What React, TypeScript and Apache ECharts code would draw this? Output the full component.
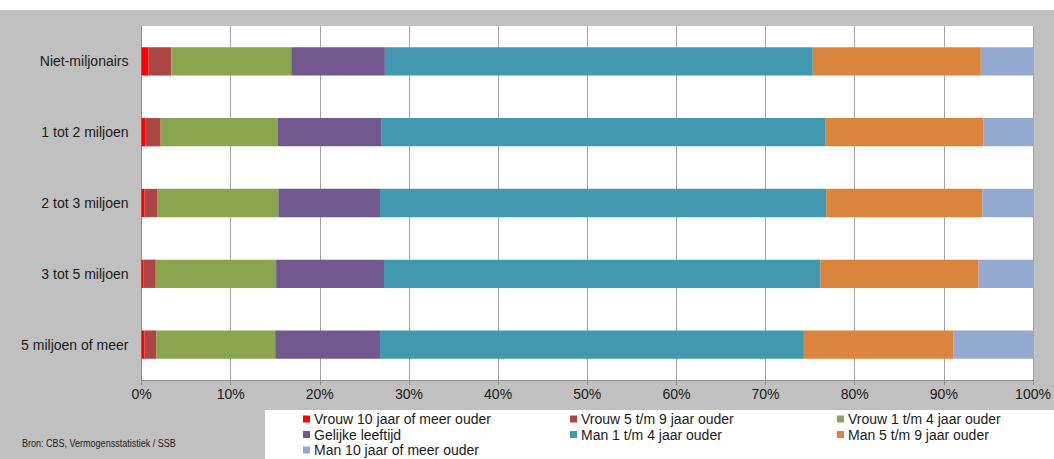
import React, { useEffect, useRef } from "react";
import * as echarts from "echarts";

const categories = [
  "Niet-miljonairs",
  "1 tot 2 miljoen",
  "2 tot 3 miljoen",
  "3 tot 5 miljoen",
  "5 miljoen of meer",
];

const seriesNames = [
  "Vrouw 10 jaar of meer ouder",
  "Vrouw 5 t/m 9 jaar ouder",
  "Vrouw 1 t/m 4 jaar ouder",
  "Gelijke leeftijd",
  "Man 1 t/m 4 jaar ouder",
  "Man 5 t/m 9 jaar ouder",
  "Man 10 jaar of meer ouder",
];

const vrouw10 = [0.8, 0.45, 0.35, 0.2, 0.35];
const vrouw5t9 = [2.55, 1.7, 1.4, 1.4, 1.3];
const vrouw1t4 = [13.45, 13.15, 13.6, 13.5, 13.35];
const gelijk = [10.5, 11.65, 11.4, 12.1, 11.75];
const man1t4 = [48.0, 49.8, 50.05, 48.95, 47.55];
const man5t9 = [18.85, 17.7, 17.5, 17.75, 16.8];
const man10 = [5.85, 5.55, 5.7, 6.1, 8.9];

const seriesValues = [vrouw10, vrouw5t9, vrouw1t4, gelijk, man1t4, man5t9, man10];

const colors = ["#FF0000", "#AA4643", "#89A54E", "#71588F", "#4198AF", "#DB843D", "#93A9CF"];

const xTicks = [0, 10, 20, 30, 40, 50, 60, 70, 80, 90, 100];

const sourceText = "Bron: CBS, Vermogensstatistiek / SSB";

// legend slot positions (chart coords)
const legendCols = [303, 570, 837];
const legendRows = [402, 417.5, 433];

export default function App() {
  const ref = useRef<HTMLDivElement>(null);

  useEffect(() => {
    if (!ref.current) return;
    const chart = echarts.init(ref.current, undefined, { renderer: "svg" });
    const font = "'Liberation Sans', Arial, sans-serif";

    const legends = seriesNames.map((name, i) => ({
      show: true,
      data: [name],
      left: legendCols[i % 3],
      top: legendRows[Math.floor(i / 3)],
      padding: 0,
      itemWidth: 7,
      itemHeight: 7,
      itemGap: 0,
      icon: "rect",
      selectedMode: false,
      textStyle: {
        fontFamily: font,
        fontSize: 14,
        lineHeight: 14,
        color: "#1a1a1a",
        padding: [0, 0, 0, -1],
      },
    }));

    chart.setOption({
      animation: false,
      backgroundColor: "#c0c0c0",
      textStyle: { fontFamily: font },
      grid: {
        left: 141.5,
        right: 21,
        top: 16,
        bottom: 79,
        show: true,
        backgroundColor: "#ffffff",
        borderWidth: 0,
      },
      legend: legends,
      xAxis: {
        type: "value",
        min: xTicks[0],
        max: xTicks[xTicks.length - 1],
        interval: 10,
        axisLine: { show: true, lineStyle: { color: "#8c8c8c", width: 1 } },
        axisTick: { show: true, length: 5, lineStyle: { color: "#8c8c8c" } },
        splitLine: { show: true, lineStyle: { color: "#a6a6a6", width: 1 } },
        axisLabel: {
          formatter: "{value}%",
          fontSize: 14,
          color: "#1a1a1a",
          margin: 7,
        },
      },
      yAxis: {
        type: "category",
        data: categories,
        inverse: true,
        axisLine: { show: true, lineStyle: { color: "#8c8c8c", width: 1 } },
        axisTick: { show: false },
        splitLine: { show: false },
        axisLabel: { fontSize: 14, color: "#1a1a1a", margin: 13 },
      },
      series: seriesNames.map((name, i) => ({
        name,
        type: "bar",
        stack: "total",
        data: seriesValues[i],
        barWidth: "40%",
        itemStyle: { color: colors[i] },
        emphasis: { disabled: true },
        silent: true,
      })),
      graphic: [
        {
          type: "rect",
          z: -1,
          zlevel: 0,
          shape: { x: 265, y: 400, width: 789, height: 49 },
          style: { fill: "#ffffff" },
        },
        {
          type: "text",
          x: 22,
          y: 433,
          scaleX: 0.82,
          style: {
            text: sourceText,
            fontFamily: font,
            fontSize: 11,
            fill: "#1a1a1a",
            textVerticalAlign: "middle",
          },
        },
      ],
    });

    return () => chart.dispose();
  }, []);

  return (
    <div
      style={{
        position: "absolute",
        left: 0,
        top: 0,
        width: 1054,
        height: 459,
        background: "#ffffff",
        overflow: "hidden",
      }}
    >
      <div
        ref={ref}
        style={{ position: "absolute", left: 0, top: 10, width: 1054, height: 449 }}
      />
    </div>
  );
}
